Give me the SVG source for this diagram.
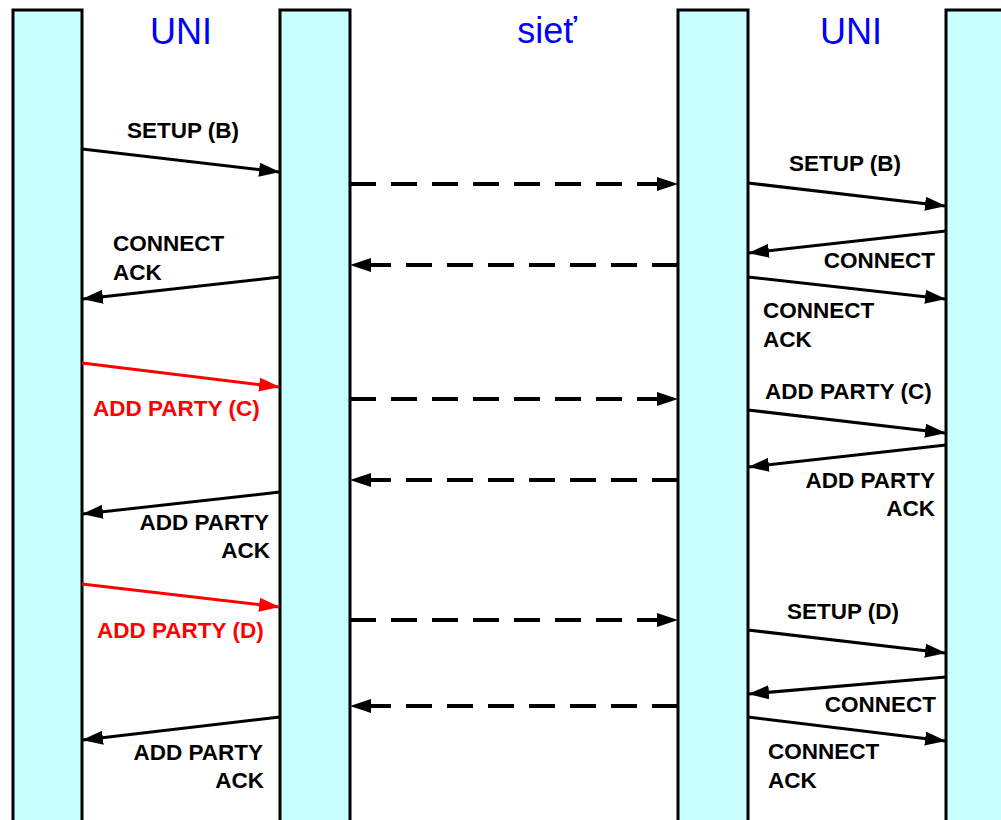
<svg xmlns="http://www.w3.org/2000/svg" width="1001" height="820" viewBox="0 0 1001 820">
<style>
.bar{fill:#c8ffff;stroke:#000;stroke-width:3}
.title{font-family:"Liberation Sans",Arial,sans-serif;font-size:36px;fill:#0000ff}
.lbl{font-family:"Liberation Sans",Arial,sans-serif;font-size:22.5px;font-weight:bold;fill:#000}
.red{fill:#ff0000}
.msg{stroke:#000;stroke-width:3;fill:none;marker-end:url(#ah)}
.msgr{stroke:#ff0000;stroke-width:3;fill:none;marker-end:url(#ahr)}
.dash{stroke:#000;stroke-width:4;fill:none;stroke-dasharray:26 15;marker-end:url(#ahd)}
.end{text-anchor:end}
</style>
<defs>
<marker id="ah" markerUnits="userSpaceOnUse" markerWidth="22" markerHeight="16" refX="20" refY="7" orient="auto"><path d="M0,0 L21,7 L0,14 z" fill="#000"/></marker>
<marker id="ahr" markerUnits="userSpaceOnUse" markerWidth="22" markerHeight="16" refX="20" refY="7" orient="auto"><path d="M0,0 L21,7 L0,14 z" fill="#ff0000"/></marker>
<marker id="ahd" markerUnits="userSpaceOnUse" markerWidth="22" markerHeight="16" refX="20" refY="7" orient="auto"><path d="M0,0 L21,7 L0,14 z" fill="#000"/></marker>
</defs>
<rect width="1001" height="820" fill="#fff"/>
<g id="bar1"><rect class="bar" x="13" y="10" width="69" height="830"/></g>
<g id="bar2"><rect class="bar" x="280" y="10" width="70" height="830"/></g>
<g id="bar3"><rect class="bar" x="678" y="10" width="70" height="830"/></g>
<g id="bar4"><rect class="bar" x="946" y="10" width="70" height="830"/></g>
<g id="titles">
<text class="title" x="181" y="44" text-anchor="middle">UNI</text>
<text class="title" x="547" y="43" text-anchor="middle">sieť</text>
<text class="title" x="851" y="44" text-anchor="middle">UNI</text>
</g>
<g id="connectors">
<line class="msg" x1="82" y1="149" x2="279" y2="172"/>
<line class="dash" x1="350" y1="184" x2="677" y2="184"/>
<line class="msg" x1="748" y1="183" x2="945" y2="206"/>
<line class="msg" x1="946" y1="231" x2="749" y2="253"/>
<line class="dash" x1="678" y1="265" x2="351" y2="265"/>
<line class="msg" x1="280" y1="277" x2="83" y2="299"/>
<line class="msg" x1="748" y1="277" x2="945" y2="299"/>
<line class="msgr" x1="82" y1="363" x2="279" y2="387"/>
<line class="dash" x1="350" y1="399" x2="677" y2="399"/>
<line class="msg" x1="748" y1="410" x2="945" y2="433"/>
<line class="msg" x1="946" y1="445" x2="749" y2="467"/>
<line class="dash" x1="678" y1="480" x2="351" y2="480"/>
<line class="msg" x1="280" y1="492" x2="83" y2="514"/>
<line class="msgr" x1="82" y1="584" x2="279" y2="607"/>
<line class="dash" x1="350" y1="620" x2="677" y2="620"/>
<line class="msg" x1="748" y1="630" x2="945" y2="653"/>
<line class="msg" x1="946" y1="677" x2="749" y2="694"/>
<line class="dash" x1="678" y1="706" x2="351" y2="706"/>
<line class="msg" x1="748" y1="717" x2="945" y2="741"/>
<line class="msg" x1="280" y1="717" x2="83" y2="740"/>
</g>
<g id="labels">
<text class="lbl" x="127" y="138">SETUP (B)</text>
<text class="lbl" x="789" y="171">SETUP (B)</text>
<text class="lbl end" x="935" y="268">CONNECT</text>
<text class="lbl" x="113" y="251">CONNECT</text>
<text class="lbl" x="113" y="280">ACK</text>
<text class="lbl" x="763" y="318">CONNECT</text>
<text class="lbl" x="763" y="347">ACK</text>
<text class="lbl red" x="93" y="416">ADD PARTY (C)</text>
<text class="lbl" x="765" y="399">ADD PARTY (C)</text>
<text class="lbl end" x="935" y="488">ADD PARTY</text>
<text class="lbl end" x="935" y="516">ACK</text>
<text class="lbl end" x="269" y="530">ADD PARTY</text>
<text class="lbl end" x="270" y="558">ACK</text>
<text class="lbl red" x="97" y="638">ADD PARTY (D)</text>
<text class="lbl" x="787" y="619">SETUP (D)</text>
<text class="lbl end" x="936" y="712">CONNECT</text>
<text class="lbl" x="768" y="759">CONNECT</text>
<text class="lbl" x="768" y="788">ACK</text>
<text class="lbl end" x="263" y="760">ADD PARTY</text>
<text class="lbl end" x="264" y="788">ACK</text>
</g>
</svg>
